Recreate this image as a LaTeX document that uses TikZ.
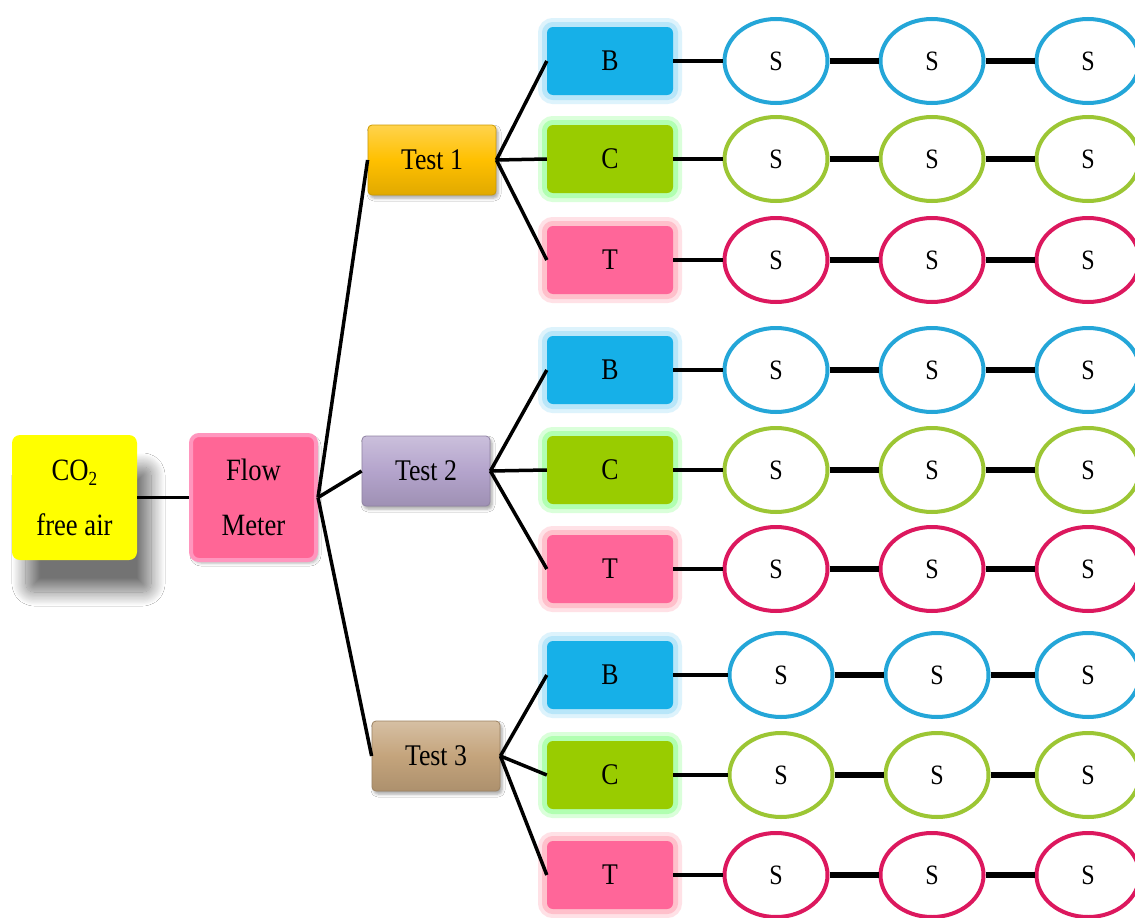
\documentclass[tikz,border=0pt]{standalone}
\usepackage{fontspec}
\setmainfont{Liberation Serif}
\usetikzlibrary{shapes.geometric,shadows.blur}
\definecolor{yel}{RGB}{255,255,0}
\definecolor{flowpink}{RGB}{255,102,150}
\definecolor{flowedge}{RGB}{255,150,190}
\definecolor{gold}{RGB}{255,192,0}
\definecolor{lav}{RGB}{180,164,204}
\definecolor{tan}{RGB}{196,164,124}
\definecolor{bfill}{RGB}{22,176,232}
\definecolor{bglow}{RGB}{160,222,248}
\definecolor{cfill}{RGB}{153,204,0}
\definecolor{cglow}{RGB}{150,255,150}
\definecolor{tfill}{RGB}{255,102,153}
\definecolor{tglow}{RGB}{255,170,185}
\definecolor{eblue}{RGB}{36,166,216}
\definecolor{egreen}{RGB}{156,198,52}
\definecolor{epink}{RGB}{220,24,94}
\newcommand{\cond}[1]{\scalebox{0.86}[1]{#1}}
\begin{document}
\begin{tikzpicture}[x=1pt,y=-1pt,
  bigbox/.style={rounded corners=8pt, minimum width=125pt, minimum height=125pt,
    align=center, font=\fontsize{31}{55}\selectfont, inner sep=0pt},
  testbox/.style={rounded corners=4pt, minimum width=128pt, minimum height=70pt,
    top color=#1!70!white, bottom color=#1!88!black, middle color=#1,
    draw=#1!80!black, line width=0.8pt, font=\fontsize{30}{32}\selectfont,
    blur shadow={shadow xshift=2pt, shadow yshift=-3pt, shadow blur radius=3pt, shadow opacity=35}},
  catbase/.style 2 args={rounded corners=6pt, minimum width=126pt, minimum height=68pt,
    fill=#1, font=\fontsize{30}{32}\selectfont,
    preaction={draw=#2, line width=18pt, draw opacity=0.35},
    preaction={draw=#2, line width=10pt, draw opacity=0.6}},
  cat B/.style={catbase={bfill}{bglow}},
  cat C/.style={catbase={cfill}{cglow}},
  cat T/.style={catbase={tfill}{tglow}},
  ellbase/.style={ellipse, draw=#1, line width=4pt, fill=white,
    minimum width=103pt, minimum height=84pt, font=\fontsize{28}{30}\selectfont},
  ell B/.style={ellbase=eblue},
  ell C/.style={ellbase=egreen},
  ell T/.style={ellbase=epink},
  link/.style={line width=3.5pt, black},
  heavy/.style={line width=6.5pt, black}]
\useasboundingbox (0,0) rectangle (1135,918);
\begin{scope}
\clip (0,0) rectangle (1135,918);
\fill[white] (0,0) rectangle (1135,918);
% source and flow meter
\node[bigbox, fill=yel,
  blur shadow={shadow xshift=14pt, shadow yshift=-32pt, shadow blur radius=14pt,
    shadow blur steps=24, shadow opacity=55}]
  (co2) at (74.5,497.5) {\cond{CO\raisebox{-0.35ex}{\fontsize{20}{20}\selectfont 2}}\\ \cond{free air}};
\node[bigbox, fill=flowpink, draw=flowedge, line width=4pt,
  blur shadow={shadow xshift=2pt, shadow yshift=-3pt, shadow blur radius=3pt, shadow opacity=30}]
  (flow) at (253.5,497.5) {\cond{Flow}\\ \cond{Meter}};
\draw[link] (co2.east) -- (flow.west);
% tests
\node[testbox=gold] (t1) at (432,160) {\cond{Test 1}};
\node[testbox=lav] (t2) at (426,471) {\cond{Test 2}};
\node[testbox=tan] (t3) at (436,756) {\cond{Test 3}};
\draw[link] (flow.east) -- (t1.west);
\draw[link] (flow.east) -- (t2.west);
\draw[link] (flow.east) -- (t3.west);
% categories and samples
\foreach \n/\t/\k/\y/\dx in {b1/t1/B/61/0, c1/t1/C/159/0, d1/t1/T/260/0,
    b2/t2/B/370/0, c2/t2/C/470/0, d2/t2/T/569/0,
    b3/t3/B/675/5, c3/t3/C/775/5, d3/t3/T/875/0}{
  \node[cat \k] (\n) at (610,\y) {\cond{\k}};
  \draw[link] (\t.east) -- (\n.west);
  \node[ell \k] (\n s1) at (776+\dx,\y) {\cond{S}};
  \node[ell \k] (\n s2) at (932+\dx,\y) {\cond{S}};
  \node[ell \k] (\n s3) at (1088,\y) {\cond{S}};
  \draw[link] (\n.east) -- (\n s1.west);
  \draw[heavy] (\n s1.east) -- (\n s2.west);
  \draw[heavy] (\n s2.east) -- (\n s3.west);
}
\end{scope}
\end{tikzpicture}
\end{document}
